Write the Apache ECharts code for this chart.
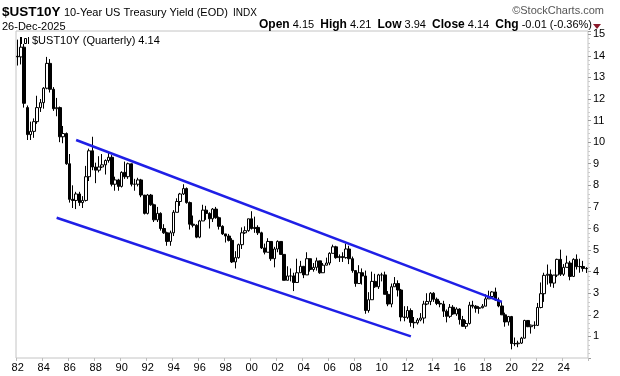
<!DOCTYPE html>
<html>
<head>
<meta charset="utf-8">
<script src="https://cdn.jsdelivr.net/npm/echarts@6/dist/echarts.min.js"></script>
<style>
  html, body { margin: 0; padding: 0; background: #fff; }
  #chart { width: 620px; height: 376px; }
</style>
</head>
<body>
<div id="chart"></div>
<script>
// quarterly candles, Q1 1982 .. Q4 2025
var years = [1982, 1983, 1984, 1985, 1986, 1987, 1988, 1989, 1990, 1991, 1992, 1993, 1994, 1995, 1996,
             1997, 1998, 1999, 2000, 2001, 2002, 2003, 2004, 2005, 2006, 2007, 2008, 2009, 2010, 2011,
             2012, 2013, 2014, 2015, 2016, 2017, 2018, 2019, 2020, 2021, 2022, 2023, 2024, 2025];
var quarterNames = ['Q1', 'Q2', 'Q3', 'Q4'];

// one line per year, four quarters each
var opens = [
  13.98, 13.95, 14.40, 11.60,
  10.35, 10.50, 10.95, 11.60,
  11.83, 12.50, 13.65, 12.45,
  11.55, 11.60, 10.25, 10.40,
  9.00, 7.35, 7.30, 7.60,
  7.20, 7.30, 8.40, 9.60,
  8.85, 8.70, 8.85, 8.95,
  9.15, 9.30, 8.05, 8.25,
  7.95, 8.60, 8.40, 9.00,
  8.05, 8.05, 8.25, 7.55,
  6.70, 7.55, 7.10, 6.40,
  6.70, 6.00, 5.80, 5.40,
  5.80, 6.75, 7.25, 7.60,
  7.85, 7.20, 6.20, 6.15,
  5.60, 6.35, 6.85, 6.70,
  6.45, 6.90, 6.50, 6.10,
  5.75, 5.65, 5.45, 4.45,
  4.65, 5.25, 5.80, 5.90,
  6.45, 6.00, 6.05, 5.80,
  5.10, 4.90, 5.40, 4.60,
  5.05, 5.40, 4.80, 3.60,
  3.80, 3.80, 3.50, 3.95,
  4.25, 3.85, 4.60, 4.10,
  4.20, 4.50, 3.95, 4.30,
  4.40, 4.85, 5.15, 4.65,
  4.70, 4.65, 5.05, 4.60,
  4.05, 3.45, 3.95, 3.80,
  2.20, 2.70, 3.55, 3.30,
  3.85, 3.85, 2.95, 2.50,
  3.30, 3.45, 3.15, 1.90,
  1.88, 2.20, 1.65, 1.63,
  1.76, 1.85, 2.50, 2.62,
  3.00, 2.72, 2.53, 2.50,
  2.17, 1.93, 2.35, 2.04,
  2.27, 1.78, 1.47, 1.60,
  2.45, 2.40, 2.30, 2.33,
  2.40, 2.74, 2.85, 3.06,
  2.69, 2.41, 2.00, 1.67,
  1.92, 0.67, 0.66, 0.69,
  0.92, 1.74, 1.45, 1.52,
  1.51, 2.34, 2.98, 3.83,
  3.88, 3.47, 3.84, 4.57,
  3.88, 4.20, 4.40, 3.78,
  4.57, 4.23, 4.24, 4.15
];
var closes = [
  13.95, 14.40, 11.80, 10.35,
  10.50, 10.95, 11.60, 11.83,
  12.50, 13.65, 12.45, 11.55,
  11.60, 10.25, 10.40, 9.00,
  7.35, 7.30, 7.60, 7.20,
  7.30, 8.40, 9.60, 8.85,
  8.70, 8.85, 8.95, 9.15,
  9.30, 8.05, 8.25, 7.95,
  8.60, 8.40, 9.00, 8.05,
  8.05, 8.25, 7.55, 6.70,
  7.55, 7.10, 6.40, 6.70,
  6.00, 5.80, 5.40, 5.80,
  6.75, 7.25, 7.60, 7.85,
  7.20, 6.20, 6.15, 5.60,
  6.35, 6.85, 6.70, 6.45,
  6.90, 6.50, 6.10, 5.75,
  5.65, 5.45, 4.45, 4.65,
  5.25, 5.80, 5.90, 6.45,
  6.00, 6.05, 5.80, 5.10,
  4.90, 5.40, 4.60, 5.05,
  5.40, 4.80, 3.60, 3.80,
  3.80, 3.50, 3.95, 4.25,
  3.85, 4.60, 4.10, 4.20,
  4.50, 3.95, 4.30, 4.40,
  4.85, 5.15, 4.65, 4.70,
  4.65, 5.05, 4.60, 4.05,
  3.45, 3.95, 3.80, 2.20,
  2.70, 3.55, 3.30, 3.85,
  3.85, 2.95, 2.50, 3.30,
  3.45, 3.15, 1.90, 1.88,
  2.20, 1.65, 1.63, 1.76,
  1.85, 2.50, 2.62, 3.00,
  2.72, 2.53, 2.50, 2.17,
  1.93, 2.35, 2.04, 2.27,
  1.78, 1.47, 1.60, 2.45,
  2.40, 2.30, 2.33, 2.40,
  2.74, 2.85, 3.06, 2.69,
  2.41, 2.00, 1.67, 1.92,
  0.67, 0.66, 0.69, 0.92,
  1.74, 1.45, 1.52, 1.51,
  2.34, 2.98, 3.83, 3.88,
  3.47, 3.84, 4.57, 3.88,
  4.20, 4.40, 3.78, 4.57,
  4.23, 4.24, 4.15, 4.14
];
var lows = [
  13.55, 13.60, 11.60, 10.10,
  10.10, 10.20, 10.85, 11.40,
  11.55, 12.45, 12.30, 11.45,
  11.20, 10.00, 9.95, 8.95,
  7.20, 6.95, 6.90, 7.05,
  6.95, 7.25, 8.20, 8.70,
  8.10, 8.60, 8.80, 8.50,
  9.05, 7.95, 7.75, 7.75,
  7.90, 8.30, 8.30, 7.95,
  7.75, 7.95, 7.45, 6.65,
  6.65, 7.05, 6.30, 6.30,
  5.90, 5.75, 5.20, 5.20,
  5.65, 6.75, 7.05, 7.55,
  7.15, 5.95, 6.05, 5.55,
  5.55, 6.35, 6.40, 6.00,
  6.30, 6.45, 5.95, 5.70,
  5.35, 5.40, 4.40, 4.15,
  4.60, 5.05, 5.75, 5.85,
  5.95, 5.80, 5.70, 5.05,
  4.80, 4.90, 4.50, 4.20,
  4.90, 4.80, 3.60, 3.60,
  3.55, 3.10, 3.50, 3.95,
  3.70, 3.85, 4.00, 4.00,
  4.05, 3.90, 3.95, 4.30,
  4.30, 4.85, 4.60, 4.45,
  4.45, 4.60, 4.35, 3.95,
  3.30, 3.45, 3.40, 2.05,
  2.10, 2.70, 3.25, 3.20,
  3.55, 2.95, 2.40, 2.35,
  3.30, 2.85, 1.70, 1.70,
  1.80, 1.45, 1.38, 1.55,
  1.70, 1.60, 2.45, 2.45,
  2.60, 2.45, 2.35, 1.90,
  1.65, 1.85, 2.00, 1.95,
  1.55, 1.45, 1.35, 1.55,
  2.30, 2.10, 2.05, 2.30,
  2.40, 2.74, 2.80, 2.65,
  2.35, 2.00, 1.45, 1.50,
  0.40, 0.55, 0.50, 0.65,
  0.90, 1.43, 1.13, 1.35,
  1.48, 2.30, 2.60, 3.40,
  3.30, 3.25, 3.75, 3.80,
  3.80, 4.20, 3.60, 3.75,
  4.10, 3.95, 4.00, 3.94
];
var highs = [
  14.75, 14.65, 14.55, 11.70,
  10.95, 11.10, 12.15, 12.00,
  12.55, 13.95, 13.85, 12.55,
  12.05, 11.65, 10.75, 10.45,
  9.45, 8.00, 7.70, 7.70,
  7.50, 8.90, 9.70, 10.25,
  9.05, 9.35, 9.45, 9.20,
  9.50, 9.40, 8.40, 8.30,
  8.65, 9.10, 9.05, 9.00,
  8.30, 8.35, 8.30, 7.55,
  7.60, 7.60, 7.15, 7.00,
  6.75, 6.20, 5.85, 5.90,
  6.85, 7.40, 7.65, 8.05,
  7.90, 7.25, 6.60, 6.20,
  6.40, 7.10, 7.05, 6.75,
  6.95, 7.00, 6.55, 6.15,
  5.75, 5.75, 5.55, 4.95,
  5.30, 6.05, 6.10, 6.45,
  6.80, 6.55, 6.15, 5.85,
  5.30, 5.55, 5.40, 5.15,
  5.45, 5.40, 4.80, 4.25,
  4.15, 3.95, 4.60, 4.50,
  4.25, 4.90, 4.60, 4.40,
  4.65, 4.50, 4.40, 4.65,
  4.90, 5.25, 5.20, 4.80,
  4.90, 5.30, 5.20, 4.70,
  4.05, 4.30, 4.15, 4.05,
  3.05, 4.00, 3.90, 3.90,
  3.95, 4.00, 3.10, 3.45,
  3.75, 3.60, 3.20, 2.40,
  2.40, 2.30, 1.90, 1.85,
  2.08, 2.65, 3.00, 3.05,
  3.05, 2.80, 2.65, 2.65,
  2.25, 2.50, 2.45, 2.35,
  2.30, 1.95, 1.75, 2.60,
  2.65, 2.45, 2.40, 2.50,
  2.95, 3.12, 3.10, 3.26,
  2.80, 2.60, 2.10, 1.95,
  1.95, 0.95, 0.80, 0.98,
  1.77, 1.75, 1.55, 1.70,
  2.55, 3.50, 3.95, 4.33,
  4.10, 3.85, 4.60, 5.02,
  4.35, 4.74, 4.50, 4.62,
  4.80, 4.60, 4.50, 4.21
];

// hand-drawn trend channel: [quarter index, yield]
var upperLine = [[18, 10.1], [149, 2.6]];
var lowerLine = [[12, 6.5], [121, 1.0]];

var categories = [];
years.forEach(function (y) {
    quarterNames.forEach(function (q) {
        categories.push(y + q);
    });
});

var candles = opens.map(function (o, i) {
    return [o, closes[i], lows[i], highs[i]];
});

function isLabelTick(index, value) {
    var yr = parseInt(value.slice(0, 4), 10);
    return value.slice(4) === 'Q1' && yr % 2 === 0;
}

var myChart = echarts.init(document.getElementById('chart'), null, { renderer: 'canvas' });

var baseFont = '"Liberation Sans", Arial, sans-serif';

var option = {
    animation: false,
    backgroundColor: '#fff',
    grid: {
        left: 16, right: 32, top: 31, bottom: 18,
        show: true,
        borderColor: '#c4c4c4',
        borderWidth: 1
    },
    xAxis: {
        type: 'category',
        data: categories,
        boundaryGap: true,
        axisLine: { show: false },
        axisTick: {
            show: true, interval: isLabelTick, length: 3,
            lineStyle: { color: '#bbb' }
        },
        axisLabel: {
            interval: isLabelTick,
            formatter: function (v) { return v.slice(2, 4); },
            color: '#000', fontSize: 11, fontFamily: baseFont, margin: 4
        },
        splitLine: { show: false }
    },
    yAxis: {
        type: 'value',
        position: 'right',
        min: 0, max: 15.15, interval: 1,
        axisLine: { show: false },
        axisTick: { show: true, length: 3, lineStyle: { color: '#999' } },
        minorTick: { show: true, splitNumber: 5, length: 2, lineStyle: { color: '#ccc' } },
        axisLabel: {
            showMinLabel: false, showMaxLabel: false,
            color: '#000', fontSize: 11, fontFamily: baseFont, margin: 5
        },
        splitLine: { show: false }
    },
    series: [
        {
            type: 'candlestick',
            data: candles,
            barWidth: 3,
            itemStyle: {
                color: '#fff', color0: '#000',
                borderColor: '#000', borderColor0: '#000',
                borderWidth: 1
            }
        },
        {
            type: 'line',
            data: upperLine,
            symbol: 'none',
            lineStyle: { color: '#1f1fe6', width: 2.5 },
            z: 3
        },
        {
            type: 'line',
            data: lowerLine,
            symbol: 'none',
            lineStyle: { color: '#1f1fe6', width: 2.5 },
            z: 3
        }
    ],
    graphic: [
        { type: 'text', left: 2, top: 5, style: { text: '$UST10Y', font: 'bold 13.5px ' + baseFont, fill: '#000' } },
        { type: 'text', left: 64, top: 7, style: { text: '10-Year US Treasury Yield (EOD)', font: '11px ' + baseFont, fill: '#000' } },
        { type: 'text', left: 233, top: 8, style: { text: 'INDX', font: '10px ' + baseFont, fill: '#000' } },
        { type: 'text', left: 2, top: 21, style: { text: '26-Dec-2025', font: '11px ' + baseFont, fill: '#000' } },
        { type: 'text', right: 16, top: 5, style: { text: '\u00a9StockCharts.com', font: '11px ' + baseFont, fill: '#555' } },
        {
            type: 'text', right: 28, top: 19,
            style: {
                text: '{b|Open} 4.15  {b|High} 4.21  {b|Low} 3.94  {b|Close} 4.14  {b|Chg} -0.01 (-0.36%)',
                font: '11px ' + baseFont, fill: '#000',
                rich: { b: { font: 'bold 12px ' + baseFont, fill: '#000' } }
            }
        },
        { type: 'polygon', right: 19, top: 24, shape: { points: [[0, 0], [8, 0], [4, 5]] }, style: { fill: '#8b1a2b' } },
        { type: 'text', left: 32, top: 35, style: { text: '$UST10Y (Quarterly) 4.14', font: '11px ' + baseFont, fill: '#000' } },
        { type: 'rect', left: 20, top: 37, shape: { width: 2, height: 7 }, style: { fill: '#000' } },
        { type: 'rect', left: 24, top: 38, shape: { width: 2, height: 5 }, style: { fill: '#fff', stroke: '#000', lineWidth: 1 } },
        { type: 'rect', left: 28, top: 37, shape: { width: 1, height: 7 }, style: { fill: '#000' } }
    ]
};

myChart.setOption(option);
</script>
</body>
</html>
